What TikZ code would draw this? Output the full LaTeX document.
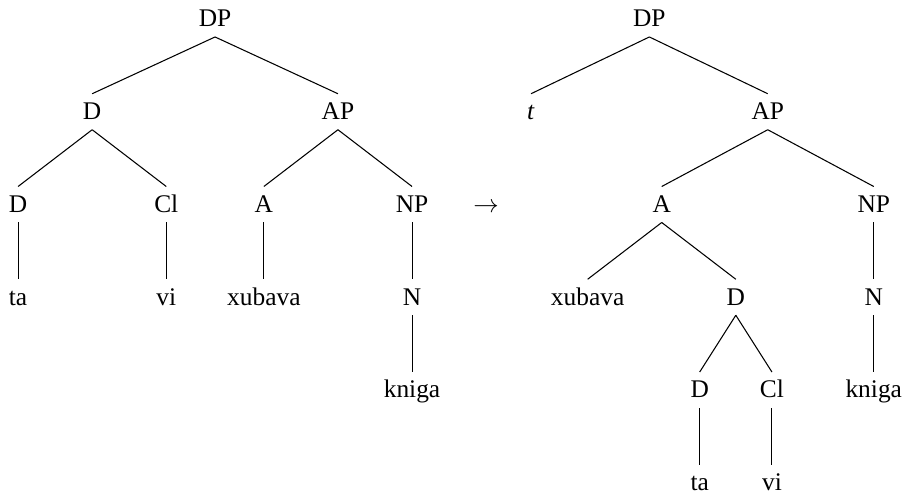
\documentclass[12pt,tikz,border=0pt]{standalone}
\usepackage{fontspec}
\setmainfont{Liberation Serif}
\begin{document}
\begin{tikzpicture}[level distance=1.54cm, line width=0.5pt,
	every node/.style = {text height=8pt, text depth=0.5pt, inner sep=4pt},
	edge from parent path = {(\tikzparentnode.south) -- (\tikzchildnode.north)}]
	
	\useasboundingbox (0,0) rectangle (15.09,-8.234);
	
	\begin{scope}[level 1/.style={sibling distance=4.08cm},
		level 2/.style={sibling distance=2.46cm}]
	\node (ldp) at (3.57,-0.315) {DP}
	child {
		node (ld) {D}
		child {
			node (ldd) {D}
			child {
				node (lta) {ta}
			}
		}
		child {
			node (lcl) {Cl}
			child {
				node (lvi) {vi}
			}
		}
	}
	child {
		node (lap) {AP}
		child {
			node (la) {A}
			child {
				node (lxub) {xubava}
			}
		}
		child {
			node (lnp) {NP}
			child {
				node (ln) {N}
				child {
					node (lkn) {kniga}
				}
			}
		}
	};
	\end{scope}
	
	\node (arr) at (8.07,-3.395) {$\rightarrow$};
	
	\begin{scope}[level 1/.style={sibling distance=3.93cm},
		level 2/.style={sibling distance=3.52cm},
		level 3/.style={sibling distance=2.46cm},
		level 4/.style={sibling distance=1.2cm}]
	\node (rdp) at (10.78,-0.315) {DP}
	child {
		node (rt) {\textit{t}}
	}
	child {
		node (rap) {AP}
		child {
			node (ra) {A}
			child {
				node (rxub) {xubava}
			}
			child {
				node (rd) {D}
				child {
					node (rdd) {D}
					child {
						node (rta) {ta}
					}
				}
				child {
					node (rcl) {Cl}
					child {
						node (rvi) {vi}
					}
				}
			}
		}
		child {
			node (rnp) {NP}
			child {
				node (rn) {N}
				child {
					node (rkn) {kniga}
				}
			}
		}
	};
	\end{scope}
\end{tikzpicture}
\end{document}
